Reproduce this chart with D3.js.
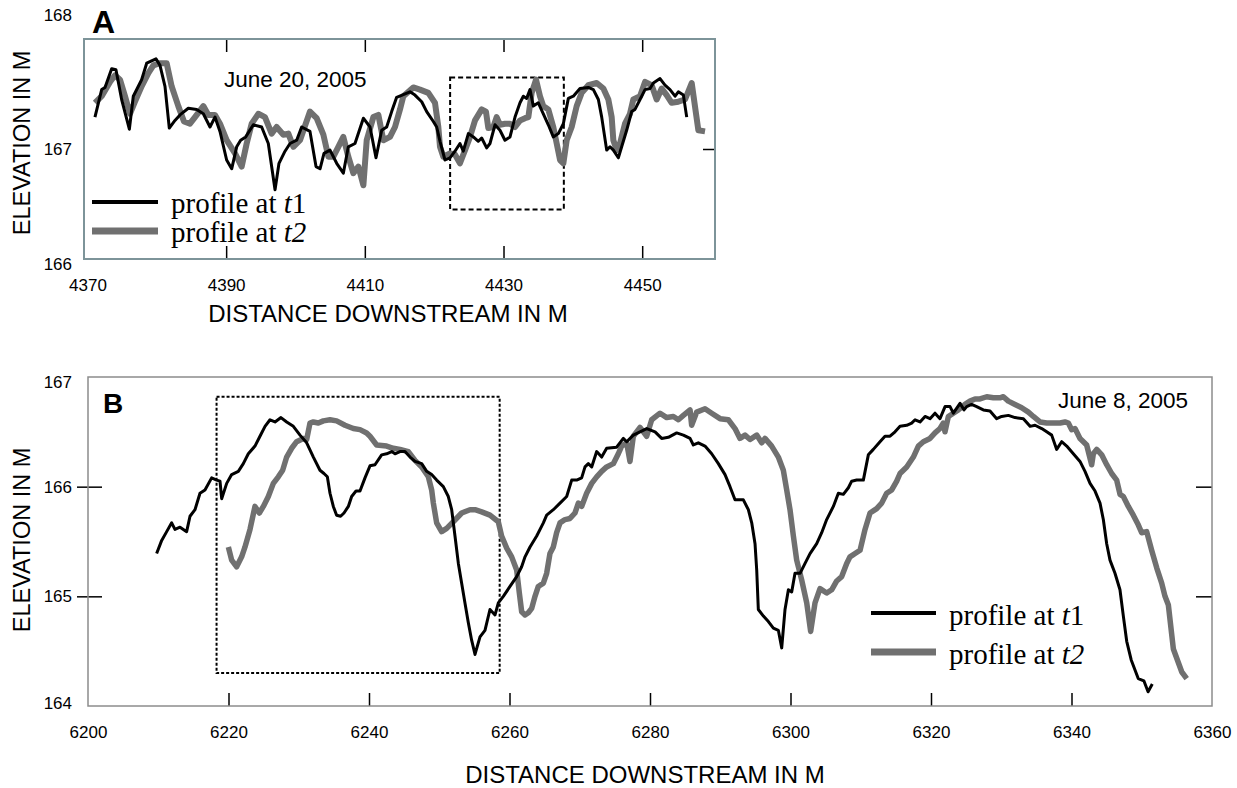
<!DOCTYPE html>
<html><head><meta charset="utf-8">
<script src="https://cdn.jsdelivr.net/npm/d3@7"></script>
<style>body{margin:0;background:#fff}svg{display:block}</style>
</head><body>
<svg id="c" width="1237" height="788"></svg>
<script>
// ---------- DATA ----------
const aTicksX = [4370, 4390, 4410, 4430, 4450];
const aTicksY = [166, 167, 168];
const bTicksX = [6200, 6220, 6240, 6260, 6280, 6300, 6320, 6340, 6360];
const bTicksY = [164, 165, 166, 167];
const xTitle = "DISTANCE DOWNSTREAM IN M";
const yTitle = "ELEVATION IN M";
const dateA = "June 20, 2005";
const dateB = "June 8, 2005";
const seriesNames = [["profile at ", "t", "1"], ["profile at ", "t2", ""]];

// Panel A profiles [distance, elevation]
const aT1 = [[4371.08,167.29],[4372.05,167.54],[4372.53,167.56],[4373.49,167.73],[4374.11,167.72],[4374.93,167.45],[4376.04,167.18],[4376.61,167.48],[4377.81,167.63],[4378.54,167.78],[4379.88,167.82],[4380.46,167.76],[4381.18,167.57],[4381.80,167.19],[4382.62,167.26],[4383.34,167.31],[4384.54,167.37],[4385.75,167.36],[4386.71,167.32],[4387.67,167.20],[4388.39,167.29],[4389.11,167.16],[4390.07,166.90],[4390.80,166.82],[4391.52,167.02],[4392.09,167.08],[4392.82,167.11],[4393.92,167.22],[4395.12,167.20],[4396.08,167.05],[4397.05,166.63],[4397.62,166.87],[4398.49,166.98],[4399.21,167.05],[4400.17,167.08],[4400.89,167.20],[4402.09,167.16],[4402.96,166.84],[4403.54,166.82],[4404.11,166.96],[4404.98,166.99],[4405.94,166.87],[4406.90,166.78],[4407.62,167.02],[4408.58,167.05],[4409.79,167.28],[4410.75,167.20],[4411.61,166.92],[4412.43,167.17],[4413.15,167.20],[4413.87,167.34],[4414.59,167.47],[4416.51,167.52],[4417.23,167.49],[4418.20,167.43],[4418.92,167.34],[4419.88,167.25],[4420.36,167.20],[4420.84,167.07],[4421.56,166.90],[4422.28,166.92],[4423.00,166.98],[4423.72,167.05],[4424.20,166.98],[4424.93,167.14],[4425.65,167.11],[4426.37,167.07],[4426.85,167.10],[4427.57,167.01],[4428.05,167.05],[4428.77,167.22],[4429.49,167.17],[4430.21,167.08],[4430.94,167.11],[4431.66,167.29],[4432.38,167.42],[4432.86,167.48],[4433.34,167.46],[4433.82,167.54],[4434.30,167.39],[4435.02,167.42],[4435.74,167.32],[4436.46,167.22],[4437.18,167.11],[4437.91,167.14],[4438.63,167.23],[4439.35,167.46],[4440.07,167.48],[4441.03,167.55],[4442.23,167.56],[4442.96,167.54],[4443.68,167.45],[4444.16,167.29],[4444.88,166.99],[4445.36,167.02],[4445.84,166.99],[4446.56,166.92],[4447.04,167.02],[4447.76,167.17],[4448.48,167.34],[4448.96,167.36],[4449.69,167.45],[4450.41,167.54],[4451.13,167.55],[4451.61,167.60],[4452.57,167.64],[4453.29,167.58],[4454.01,167.54],[4454.74,167.48],[4455.21,167.52],[4455.94,167.49],[4456.42,167.29]];
const aT2 = [[4371.08,167.42],[4372.05,167.48],[4373.25,167.61],[4373.97,167.67],[4374.69,167.63],[4375.41,167.48],[4376.13,167.32],[4376.85,167.43],[4377.81,167.57],[4378.78,167.69],[4379.50,167.76],[4380.46,167.78],[4381.42,167.78],[4382.14,167.57],[4383.10,167.39],[4383.92,167.25],[4384.78,167.23],[4385.51,167.29],[4386.71,167.39],[4387.43,167.31],[4388.39,167.31],[4389.11,167.23],[4390.07,167.08],[4391.28,166.96],[4392.24,166.84],[4392.96,167.05],[4393.68,167.23],[4394.64,167.32],[4395.60,167.29],[4396.56,167.14],[4397.28,167.20],[4398.25,167.13],[4398.97,167.14],[4399.69,167.02],[4400.65,167.08],[4402.09,167.34],[4403.05,167.28],[4404.02,167.13],[4404.74,166.93],[4405.46,166.93],[4406.18,167.02],[4406.90,167.11],[4407.62,166.93],[4408.34,166.78],[4409.07,166.84],[4409.79,166.67],[4410.27,167.08],[4411.23,167.29],[4411.95,167.31],[4412.67,167.08],[4413.63,167.11],[4414.35,167.20],[4415.07,167.36],[4415.55,167.48],[4416.99,167.56],[4417.95,167.54],[4419.16,167.51],[4420.12,167.42],[4420.60,167.20],[4420.84,167.02],[4421.32,166.93],[4422.28,166.96],[4423.00,166.95],[4423.72,166.87],[4424.45,166.99],[4425.17,167.11],[4425.89,167.26],[4426.85,167.36],[4427.47,167.34],[4427.81,167.19],[4428.53,167.20],[4429.01,167.29],[4429.49,167.22],[4430.21,167.23],[4430.94,167.23],[4431.66,167.20],[4432.38,167.26],[4433.10,167.28],[4433.58,167.29],[4434.06,167.51],[4434.69,167.63],[4435.26,167.48],[4435.74,167.39],[4436.46,167.36],[4437.18,167.20],[4437.67,167.05],[4438.15,166.90],[4438.63,166.87],[4439.11,167.08],[4439.83,167.20],[4440.55,167.39],[4441.27,167.51],[4442.23,167.58],[4443.44,167.60],[4444.40,167.55],[4445.12,167.45],[4445.60,167.29],[4445.84,167.08],[4446.32,166.99],[4446.80,167.05],[4447.52,167.23],[4448.24,167.32],[4448.72,167.45],[4449.69,167.48],[4450.41,167.61],[4451.37,167.58],[4452.09,167.45],[4452.81,167.55],[4453.53,167.49],[4454.25,167.42],[4455.21,167.43],[4456.18,167.45],[4457.14,167.60],[4458.10,167.17],[4459.06,167.16]];

// Panel B profiles [distance, elevation]
const bT1 = [[6209.77,165.39],[6210.49,165.51],[6211.20,165.59],[6211.91,165.67],[6212.38,165.61],[6213.10,165.63],[6214.04,165.59],[6214.52,165.73],[6215.23,165.79],[6215.94,165.94],[6216.65,165.97],[6217.60,166.08],[6218.32,166.06],[6218.79,166.05],[6219.03,165.89],[6219.74,166.03],[6220.45,166.11],[6221.40,166.14],[6222.11,166.21],[6222.82,166.30],[6223.77,166.37],[6224.48,166.46],[6225.20,166.55],[6225.91,166.61],[6226.62,166.59],[6227.47,166.63],[6228.28,166.59],[6229.23,166.55],[6230.18,166.47],[6231.13,166.40],[6232.08,166.27],[6233.02,166.15],[6233.59,166.12],[6234.07,166.09],[6234.45,165.94],[6234.92,165.82],[6235.39,165.74],[6235.96,165.73],[6236.44,165.76],[6237.06,165.82],[6237.53,165.91],[6238.15,165.96],[6238.72,165.96],[6239.43,166.08],[6240.14,166.19],[6240.85,166.20],[6241.80,166.29],[6242.51,166.30],[6243.23,166.32],[6243.70,166.30],[6244.41,166.32],[6245.12,166.32],[6245.84,166.27],[6246.55,166.23],[6247.50,166.21],[6248.21,166.14],[6248.92,166.11],[6249.63,166.06],[6250.58,166.00],[6251.29,165.91],[6251.77,165.79],[6252.24,165.55],[6252.72,165.30],[6253.19,165.12],[6253.66,164.94],[6254.14,164.76],[6254.61,164.60],[6255.09,164.47],[6255.80,164.63],[6256.51,164.69],[6257.22,164.88],[6257.94,164.83],[6258.41,164.94],[6259.12,165.00],[6260.07,165.09],[6261.02,165.18],[6261.73,165.27],[6262.21,165.36],[6262.92,165.45],[6263.87,165.55],[6264.82,165.67],[6265.29,165.74],[6266.24,165.79],[6267.19,165.85],[6268.14,165.91],[6268.85,166.06],[6269.56,166.06],[6270.27,166.08],[6270.75,166.18],[6271.22,166.21],[6271.70,166.18],[6272.41,166.32],[6273.12,166.27],[6273.83,166.35],[6275.25,166.36],[6276.20,166.44],[6276.68,166.41],[6277.63,166.47],[6278.58,166.50],[6279.53,166.53],[6280.72,166.50],[6281.66,166.44],[6282.61,166.45],[6283.80,166.49],[6284.75,166.47],[6285.70,166.44],[6286.17,166.38],[6286.88,166.40],[6287.83,166.37],[6288.78,166.30],[6289.73,166.21],[6290.68,166.11],[6291.39,166.00],[6292.10,165.88],[6293.29,165.88],[6294.00,165.79],[6294.48,165.67],[6294.95,165.48],[6295.19,165.24],[6295.42,164.88],[6296.14,164.82],[6296.85,164.77],[6297.56,164.71],[6298.27,164.69],[6298.75,164.53],[6299.22,164.88],[6299.70,165.06],[6300.17,165.04],[6300.64,165.21],[6301.36,165.21],[6302.07,165.30],[6302.78,165.39],[6303.73,165.48],[6304.44,165.58],[6305.15,165.70],[6306.10,165.82],[6306.81,165.94],[6307.52,165.93],[6308.24,165.99],[6308.71,166.05],[6309.42,166.06],[6310.37,166.06],[6311.08,166.29],[6311.79,166.34],[6312.74,166.41],[6313.45,166.46],[6314.17,166.46],[6314.88,166.50],[6315.59,166.55],[6316.54,166.56],[6317.25,166.58],[6317.73,166.61],[6318.44,166.59],[6319.15,166.64],[6319.86,166.62],[6320.57,166.67],[6321.28,166.62],[6322.00,166.73],[6322.71,166.73],[6323.18,166.67],[6324.13,166.76],[6324.70,166.70],[6325.08,166.73],[6325.79,166.75],[6326.50,166.73],[6327.45,166.70],[6328.40,166.69],[6329.35,166.62],[6330.06,166.64],[6331.01,166.65],[6331.96,166.63],[6333.15,166.62],[6334.10,166.55],[6334.81,166.56],[6335.76,166.53],[6336.47,166.50],[6337.18,166.47],[6337.89,166.34],[6338.60,166.41],[6339.32,166.37],[6340.26,166.30],[6341.21,166.23],[6341.92,166.14],[6342.64,166.03],[6343.35,165.96],[6344.06,165.85],[6344.53,165.70],[6345.01,165.48],[6345.48,165.33],[6346.19,165.21],[6346.90,165.06],[6347.38,164.82],[6347.86,164.59],[6348.50,164.42],[6349.50,164.25],[6350.30,164.23],[6350.90,164.13],[6351.50,164.20]];
const bT2 = [[6219.98,165.45],[6220.45,165.33],[6221.16,165.27],[6221.87,165.36],[6222.35,165.45],[6223.06,165.61],[6223.77,165.82],[6224.39,165.76],[6224.96,165.82],[6225.67,165.91],[6226.38,166.03],[6227.09,166.09],[6227.71,166.15],[6228.28,166.27],[6228.99,166.35],[6229.70,166.41],[6230.65,166.44],[6231.13,166.43],[6231.60,166.58],[6232.07,166.59],[6232.79,166.58],[6233.50,166.60],[6234.45,166.61],[6235.39,166.60],[6236.58,166.56],[6237.77,166.53],[6238.72,166.52],[6239.66,166.49],[6240.14,166.46],[6241.09,166.38],[6242.51,166.37],[6243.46,166.35],[6244.41,166.34],[6245.60,166.32],[6246.55,166.24],[6247.50,166.18],[6248.45,166.09],[6248.92,165.97],[6249.16,165.85],[6249.63,165.67],[6250.34,165.59],[6251.06,165.62],[6252.00,165.68],[6253.19,165.76],[6254.38,165.79],[6255.09,165.79],[6256.04,165.77],[6257.22,165.74],[6258.41,165.68],[6258.88,165.55],[6259.60,165.44],[6260.31,165.36],[6261.02,165.24],[6261.40,165.03],[6261.73,164.86],[6262.21,164.83],[6262.68,164.85],[6263.16,164.89],[6263.63,165.00],[6264.10,165.09],[6264.82,165.12],[6265.29,165.21],[6265.76,165.39],[6266.24,165.45],[6266.71,165.58],[6267.19,165.67],[6267.90,165.70],[6268.61,165.71],[6269.32,165.76],[6269.80,165.85],[6270.27,165.82],[6270.98,165.94],[6271.70,166.03],[6272.41,166.09],[6273.12,166.14],[6273.83,166.18],[6274.78,166.21],[6275.49,166.30],[6275.97,166.37],[6276.68,166.40],[6277.15,166.23],[6277.63,166.46],[6278.58,166.54],[6279.53,166.46],[6280.24,166.61],[6281.43,166.67],[6282.38,166.63],[6283.33,166.64],[6284.04,166.61],[6284.75,166.65],[6285.70,166.70],[6285.93,166.56],[6286.65,166.68],[6287.83,166.71],[6288.78,166.67],[6289.97,166.62],[6291.15,166.61],[6292.10,166.53],[6292.81,166.44],[6293.53,166.47],[6294.24,166.43],[6295.19,166.47],[6295.90,166.40],[6296.37,166.44],[6297.32,166.37],[6298.27,166.27],[6298.98,166.15],[6299.46,165.97],[6299.93,165.79],[6300.41,165.55],[6300.88,165.33],[6301.59,165.15],[6302.31,164.94],[6302.87,164.68],[6303.49,164.94],[6304.20,165.07],[6305.15,165.03],[6305.86,165.06],[6306.58,165.14],[6307.29,165.18],[6308.00,165.30],[6308.47,165.36],[6309.19,165.39],[6309.90,165.42],[6310.61,165.61],[6311.32,165.76],[6312.27,165.80],[6312.98,165.85],[6313.69,165.94],[6314.41,165.97],[6315.12,166.05],[6315.59,166.12],[6316.54,166.18],[6317.49,166.27],[6318.20,166.37],[6318.91,166.41],[6319.86,166.44],[6320.57,166.49],[6321.28,166.53],[6321.76,166.58],[6321.99,166.50],[6322.47,166.64],[6323.18,166.67],[6323.89,166.70],[6324.84,166.75],[6325.55,166.78],[6326.27,166.80],[6326.98,166.80],[6327.93,166.82],[6328.88,166.81],[6329.82,166.81],[6330.30,166.82],[6331.01,166.78],[6331.96,166.75],[6332.91,166.72],[6333.86,166.68],[6334.57,166.64],[6335.52,166.59],[6336.47,166.58],[6337.42,166.58],[6338.37,166.58],[6339.08,166.59],[6339.55,166.58],[6340.03,166.52],[6340.50,166.53],[6341.21,166.44],[6341.69,166.41],[6342.16,166.38],[6342.87,166.20],[6343.11,166.30],[6343.59,166.34],[6344.30,166.29],[6345.01,166.20],[6345.72,166.12],[6346.43,166.06],[6346.91,165.93],[6347.38,165.91],[6348.09,165.82],[6348.80,165.74],[6349.52,165.65],[6349.99,165.58],[6350.70,165.59],[6351.41,165.42],[6352.13,165.26],[6352.84,165.12],[6353.31,165.00],[6353.79,164.92],[6354.50,164.52],[6355.70,164.31],[6356.40,164.25]];

// Zoom-window outlines in data units [x0, x1, y0, y1]
const aWindow = [4422.3, 4438.7, 166.45, 167.65];
const bWindow = [6218.3, 6258.6, 164.30, 166.82];

// ---------- DRAW ----------
const svg = d3.select("#c");
const SANS = "'Liberation Sans', Arial, Helvetica, sans-serif";
const SERIF = "'Liberation Serif', 'Times New Roman', serif";
const GRAY = "#707070";

function panel(c) {
  const g = svg.append("g");
  const x = d3.scaleLinear().domain(c.xd).range([c.l, c.r]);
  const y = d3.scaleLinear().domain(c.yd).range([c.b, c.t]);
  const line = d3.line().x(d => x(d[0])).y(d => y(d[1]));

  g.append("rect")
    .attr("x", x(c.win[0])).attr("y", y(c.win[3]))
    .attr("width", x(c.win[1]) - x(c.win[0])).attr("height", y(c.win[2]) - y(c.win[3]))
    .attr("fill", "none").attr("stroke", "#000").attr("stroke-width", 2)
    .attr("stroke-dasharray", c.dash);

  g.append("path").datum(c.t2).attr("d", line).attr("fill", "none")
    .attr("stroke", GRAY).attr("stroke-width", c.w2).attr("stroke-linejoin", "round");
  g.append("path").datum(c.t1).attr("d", line).attr("fill", "none")
    .attr("stroke", "#000").attr("stroke-width", c.w1).attr("stroke-linejoin", "round");

  const atBorderX = d => Math.abs(x(d) - c.l) < 6 || Math.abs(x(d) - c.r) < 6;
  const atBorderY = d => Math.abs(y(d) - c.t) < 6 || Math.abs(y(d) - c.b) < 6;

  const bx = g.append("g").attr("transform", `translate(0,${c.b})`)
    .call(d3.axisBottom(x).tickValues(c.xt).tickFormat(d3.format("d"))
      .tickSizeInner(-13).tickSizeOuter(0).tickPadding(20));
  bx.select(".domain").remove();
  bx.selectAll(".tick line").attr("stroke", "#000").attr("stroke-width", 1.5)
    .filter(atBorderX).remove();
  bx.selectAll("text").attr("font-family", SANS).attr("font-size", 17).attr("fill", "#000");

  if (c.topTicks) {
    const tx = g.append("g").attr("transform", `translate(0,${c.t})`)
      .call(d3.axisTop(x).tickValues(c.xt).tickFormat("").tickSizeInner(-13).tickSizeOuter(0));
    tx.select(".domain").remove();
    tx.selectAll(".tick line").attr("stroke", "#000").attr("stroke-width", 1.5).filter(atBorderX).remove();
  }

  const ly = g.append("g").attr("transform", `translate(${c.l},0)`)
    .call(d3.axisLeft(y).tickValues(c.yt).tickFormat(d3.format("d"))
      .tickSizeInner(c.leftOut).tickSizeOuter(0).tickPadding(c.leftPad));
  ly.select(".domain").remove();
  ly.selectAll(".tick line").attr("stroke", "#000").attr("stroke-width", 1.5).attr("x1", c.leftIn)
    .filter(atBorderY).remove();
  ly.selectAll("text").attr("font-family", SANS).attr("font-size", 17).attr("fill", "#000")
    .attr("y", d => (c.labShift[d] || 0));

  const ry = g.append("g").attr("transform", `translate(${c.r},0)`)
    .call(d3.axisRight(y).tickValues(c.yt).tickFormat("").tickSizeInner(-c.rightIn).tickSizeOuter(0));
  ry.select(".domain").remove();
  ry.selectAll(".tick line").attr("stroke", "#000").attr("stroke-width", 1.5).filter(atBorderY).remove();

  g.append("rect").attr("x", c.l).attr("y", c.t).attr("width", c.r - c.l).attr("height", c.b - c.t)
    .attr("fill", "none").attr("stroke", c.frame).attr("stroke-width", c.frameW);

  g.append("text").attr("x", c.xtX).attr("y", c.xtY).attr("text-anchor", "middle")
    .attr("font-family", SANS).attr("font-size", 24).text(xTitle);
  g.append("text").attr("transform", `translate(${c.ytX},${c.ytY}) rotate(-90)`)
    .attr("text-anchor", "middle").attr("font-family", SANS).attr("font-size", 23.5).text(yTitle);

  g.append("text").attr("x", c.letX).attr("y", c.letY).attr("font-family", SANS)
    .attr("font-weight", "bold").attr("font-size", c.letSize).text(c.letter);

  g.append("text").attr("x", c.dateX).attr("y", c.dateY).attr("font-family", SANS)
    .attr("font-size", 22.5).text(c.date);

  const widths = [c.lw1, c.lw2], cols = ["#000", GRAY];
  seriesNames.forEach((nm, i) => {
    const ly0 = c.legY[i];
    g.append("line").attr("x1", c.legX0).attr("x2", c.legX1).attr("y1", ly0).attr("y2", ly0)
      .attr("stroke", cols[i]).attr("stroke-width", widths[i]);
    const t = g.append("text").attr("x", c.legTX).attr("y", ly0 + c.legBase)
      .attr("font-family", SERIF).attr("font-size", 29);
    t.append("tspan").text(nm[0]);
    t.append("tspan").attr("font-style", "italic").text(nm[1]);
    if (nm[2]) t.append("tspan").text(nm[2]);
  });
}

panel({
  letter: "A", letX: 92, letY: 33, letSize: 32,
  xd: [4369.5, 4460.5], yd: [166, 168], l: 84, r: 715, t: 39, b: 259,
  xt: aTicksX, yt: aTicksY, topTicks: true,
  leftOut: -13, leftIn: 13, leftPad: 12, rightIn: 12, labShift: {168: -24, 166: 5},
  t1: aT1, t2: aT2, w1: 3, w2: 6, win: aWindow, dash: "5,3",
  frame: "#7d9499", frameW: 2,
  xtX: 388, xtY: 322, ytX: 30, ytY: 143,
  date: dateA, dateX: 224, dateY: 87,
  legX0: 92, legX1: 158, legTX: 171, legY: [202, 231], legBase: 10.5, lw1: 4, lw2: 7
});

panel({
  letter: "B", letX: 103, letY: 413, letSize: 28,
  xd: [6200, 6360], yd: [164, 167], l: 88, r: 1212, t: 377, b: 706,
  xt: bTicksX, yt: bTicksY, topTicks: false,
  leftOut: 11, leftIn: 14, leftPad: 5, rightIn: 16, labShift: {167: 5, 164: -3},
  t1: bT1, t2: bT2, w1: 3, w2: 5.5, win: bWindow, dash: "3,2",
  frame: "#8c8c8c", frameW: 1.5,
  xtX: 645, xtY: 783, ytX: 30, ytY: 540,
  date: dateB, dateX: 1058, dateY: 408,
  legX0: 871, legX1: 936, legTX: 949, legY: [613, 652], legBase: 12, lw1: 4, lw2: 7
});
</script>
</body></html>
